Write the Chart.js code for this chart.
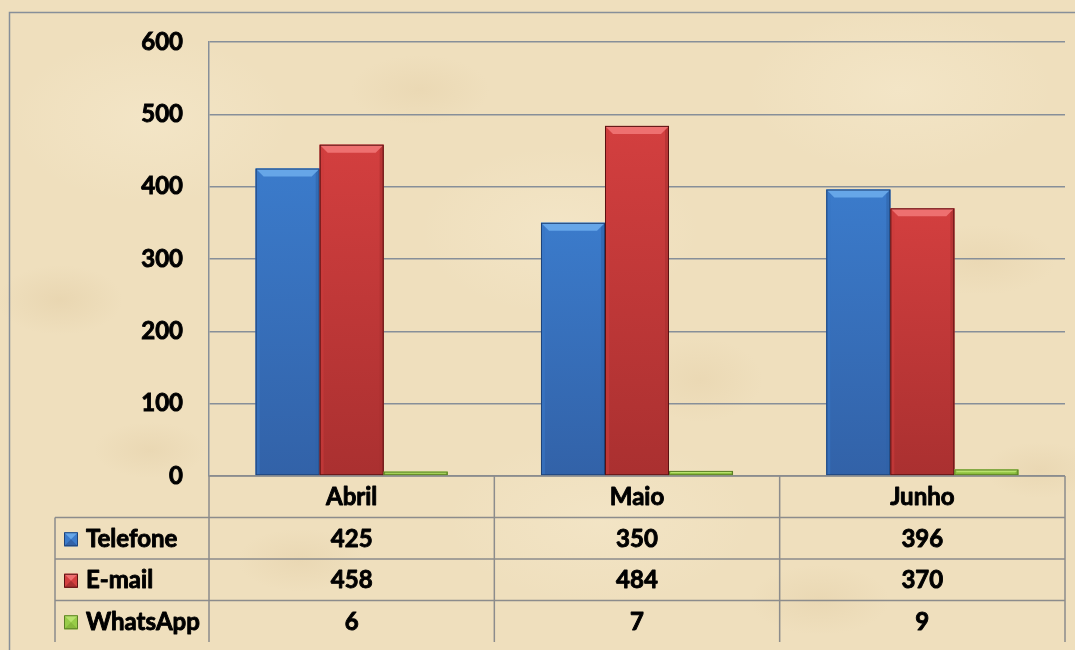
<!DOCTYPE html>
<html><head><meta charset="utf-8">
<script src="https://cdn.jsdelivr.net/npm/chart.js@4.4.1/dist/chart.umd.min.js"></script>
<style>
html,body{margin:0;padding:0;width:1075px;height:650px;overflow:hidden;}
body{
  background-color:#efdfbd;
  background-image:
    radial-gradient(ellipse 90px 50px at 60px 300px, rgba(205,175,125,0.18), rgba(205,175,125,0) 70%),
    radial-gradient(ellipse 100px 50px at 420px 90px, rgba(210,180,130,0.15), rgba(210,180,130,0) 70%),
    radial-gradient(ellipse 90px 60px at 700px 380px, rgba(210,180,130,0.15), rgba(210,180,130,0) 70%),
    radial-gradient(ellipse 110px 50px at 980px 260px, rgba(210,180,130,0.15), rgba(210,180,130,0) 70%),
    radial-gradient(ellipse 90px 45px at 300px 560px, rgba(205,175,125,0.15), rgba(205,175,125,0) 70%),
    radial-gradient(ellipse 100px 50px at 820px 600px, rgba(205,175,125,0.15), rgba(205,175,125,0) 70%),
    radial-gradient(ellipse 80px 40px at 150px 450px, rgba(205,175,125,0.15), rgba(205,175,125,0) 70%),
    radial-gradient(ellipse 80px 40px at 1040px 470px, rgba(205,175,125,0.15), rgba(205,175,125,0) 70%),
    radial-gradient(ellipse 200px 120px at 560px 230px, rgba(250,240,215,0.35), rgba(250,240,215,0) 70%),
    radial-gradient(ellipse 200px 120px at 150px 120px, rgba(250,240,215,0.35), rgba(250,240,215,0) 70%),
    radial-gradient(ellipse 220px 120px at 900px 90px, rgba(250,240,215,0.35), rgba(250,240,215,0) 70%),
    radial-gradient(ellipse 220px 120px at 600px 520px, rgba(250,240,215,0.30), rgba(250,240,215,0) 70%);
}
canvas{display:block;}
</style></head>
<body>
<canvas id="c" width="1075" height="650"></canvas>
<script>
// ---- data ----
const categories = ['Abril', 'Maio', 'Junho'];
const seriesNames = ['Telefone', 'E-mail', 'WhatsApp'];
const telefone = [425, 350, 396];
const email = [458, 484, 370];
const whatsapp = [6, 7, 9];
const yTicks = [0, 100, 200, 300, 400, 500, 600];

const FONT = 'Lato, "Open Sans", sans-serif';
const WEIGHT = 'bold';
const STROKE = 0.9;
const GRID = '#878f99';
const TABLE_LINE = '#8c8c8c';

const palettes = [
  {base:'#3b7bcb', top:'#66a6e8', bottom:'#3262a8', left:'#3876c4', right:'#2f62a6', edge:'#1f4378'},
  {base:'#d33f3f', top:'#ee7070', bottom:'#aa3030', left:'#cb3c3c', right:'#a83030', edge:'#5a1212'},
  {base:'#98cc48', top:'#b8e26c', bottom:'#88b83c', left:'#92c444', right:'#7aa834', edge:'#5c7f26'}
];
const seriesData = [telefone, email, whatsapp];

const bevelPlugin = {
  id: 'bevel',
  afterDatasetsDraw(chart) {
    const ctx = chart.ctx;
    chart.data.datasets.forEach((ds, di) => {
      const meta = chart.getDatasetMeta(di);
      const p = palettes[di];
      meta.data.forEach(el => {
        const {x, y, width, base} = el.getProps(['x','y','width','base'], true);
        const L = x - width/2, R = x + width/2, T = Math.min(y, base), B = Math.max(y, base);
        const h = B - T;
        const b = Math.min(8, h/2, width/2);
        const s = Math.min(4, h/2);
        ctx.save();
        const g = ctx.createLinearGradient(0, T, 0, B);
        g.addColorStop(0, p.base); g.addColorStop(1, p.bottom);
        ctx.fillStyle = g;
        ctx.fillRect(L, T, width, h);
        ctx.globalAlpha = 0.6;
        ctx.fillStyle = p.left;
        ctx.beginPath(); ctx.moveTo(L, T); ctx.lineTo(L+s, T+s); ctx.lineTo(L+s, B); ctx.lineTo(L, B); ctx.closePath(); ctx.fill();
        ctx.fillStyle = p.right;
        ctx.beginPath(); ctx.moveTo(R, T); ctx.lineTo(R-s, T+s); ctx.lineTo(R-s, B); ctx.lineTo(R, B); ctx.closePath(); ctx.fill();
        ctx.globalAlpha = 1;
        ctx.fillStyle = p.top;
        ctx.beginPath(); ctx.moveTo(L, T); ctx.lineTo(R, T); ctx.lineTo(R-b, T+b); ctx.lineTo(L+b, T+b); ctx.closePath(); ctx.fill();
        ctx.strokeStyle = p.edge; ctx.lineWidth = 1;
        ctx.strokeRect(L+0.5, T+0.5, width-1, h-1);
        ctx.restore();
      });
    });
  }
};

function boldText(ctx, t, x, y) {
  ctx.fillText(t, x, y);
  ctx.strokeText(t, x, y);
}

const tablePlugin = {
  id: 'dataTable',
  afterDraw(chart) {
    const ctx = chart.ctx;
    const xs = chart.scales.x;
    const area = chart.chartArea;
    const n = categories.length;
    const colW = (xs.right - xs.left) / n;
    const top = area.bottom;
    const rowH = 41.5;
    const tableLeft = 55;
    const right = xs.right;
    ctx.save();
    ctx.strokeStyle = GRID; ctx.lineWidth = 1.5;
    ctx.beginPath(); ctx.moveTo(9.5, 700); ctx.lineTo(9.5, 12.5); ctx.lineTo(1100, 12.5); ctx.stroke();
    ctx.strokeStyle = TABLE_LINE; ctx.lineWidth = 1.5;
    ctx.beginPath();
    ctx.moveTo(area.left, top); ctx.lineTo(right, top);
    for (let r = 1; r <= seriesNames.length; r++) {
      const yy = top + rowH * r;
      ctx.moveTo(tableLeft, yy); ctx.lineTo(right, yy);
    }
    const bottom = top + rowH * (seriesNames.length + 1);
    ctx.moveTo(tableLeft, top + rowH); ctx.lineTo(tableLeft, bottom);
    for (let c = 0; c <= n; c++) {
      const xx = xs.left + colW * c;
      ctx.moveTo(xx, top); ctx.lineTo(xx, bottom);
    }
    ctx.stroke();
    ctx.fillStyle = '#000';
    ctx.strokeStyle = '#000';
    ctx.lineWidth = STROKE;
    ctx.lineJoin = 'round';
    ctx.font = WEIGHT + ' 24px ' + FONT;
    ctx.textBaseline = 'middle';
    ctx.textAlign = 'center';
    categories.forEach((c, i) => {
      boldText(ctx, c, xs.getPixelForValue(i), top + rowH/2 + 1);
    });
    seriesNames.forEach((s, r) => {
      const cy = top + rowH * (r + 1) + rowH/2 + 1;
      ctx.fillStyle = '#000'; ctx.strokeStyle = '#000'; ctx.lineWidth = STROKE;
      seriesData[r].forEach((v, i) => {
        ctx.textAlign = 'center';
        boldText(ctx, String(v), xs.getPixelForValue(i), cy);
      });
      const p = palettes[r];
      const kx = 64, ky = cy - 7, k = 14;
      ctx.fillStyle = p.base; ctx.fillRect(kx, ky, k, k);
      ctx.fillStyle = p.top;
      ctx.beginPath(); ctx.moveTo(kx, ky); ctx.lineTo(kx+k, ky); ctx.lineTo(kx+k/2, ky+k/2); ctx.closePath(); ctx.fill();
      ctx.fillStyle = p.bottom;
      ctx.beginPath(); ctx.moveTo(kx, ky+k); ctx.lineTo(kx+k, ky+k); ctx.lineTo(kx+k/2, ky+k/2); ctx.closePath(); ctx.fill();
      ctx.strokeStyle = p.edge; ctx.lineWidth = 1;
      ctx.strokeRect(kx+0.5, ky+0.5, k-1, k-1);
      ctx.fillStyle = '#000'; ctx.strokeStyle = '#000'; ctx.lineWidth = STROKE;
      ctx.textAlign = 'left';
      boldText(ctx, s, 86, cy);
    });
    ctx.restore();
  }
};

new Chart(document.getElementById('c'), {
  type: 'bar',
  data: {
    labels: categories,
    datasets: seriesNames.map((name, i) => ({
      label: name,
      data: seriesData[i],
      backgroundColor: palettes[i].base,
      borderWidth: 0,
      categoryPercentage: 0.673,
      barPercentage: 1.0
    }))
  },
  options: {
    responsive: false,
    animation: false,
    devicePixelRatio: 1,
    layout: { padding: { left: 0, top: 42, right: 10, bottom: 174 } },
    plugins: { legend: { display: false }, tooltip: { enabled: false }, title: { display: false } },
    scales: {
      x: { display: false },
      y: {
        min: 0, max: 600,
        afterBuildTicks(scale) { scale.ticks = yTicks.map(v => ({ value: v })); },
        afterFit(scale) { scale.width = 209; scale.paddingTop = 0; scale.paddingBottom = 0; },
        ticks: { color: '#000', font: { family: FONT, size: 24, weight: WEIGHT }, padding: 26,
                 textStrokeColor: '#000', textStrokeWidth: STROKE },
        grid: { color: GRID, lineWidth: 1.5, drawTicks: false },
        border: { display: true, color: GRID, width: 1.5 }
      }
    }
  },
  plugins: [bevelPlugin, tablePlugin]
});
</script>
</body></html>
